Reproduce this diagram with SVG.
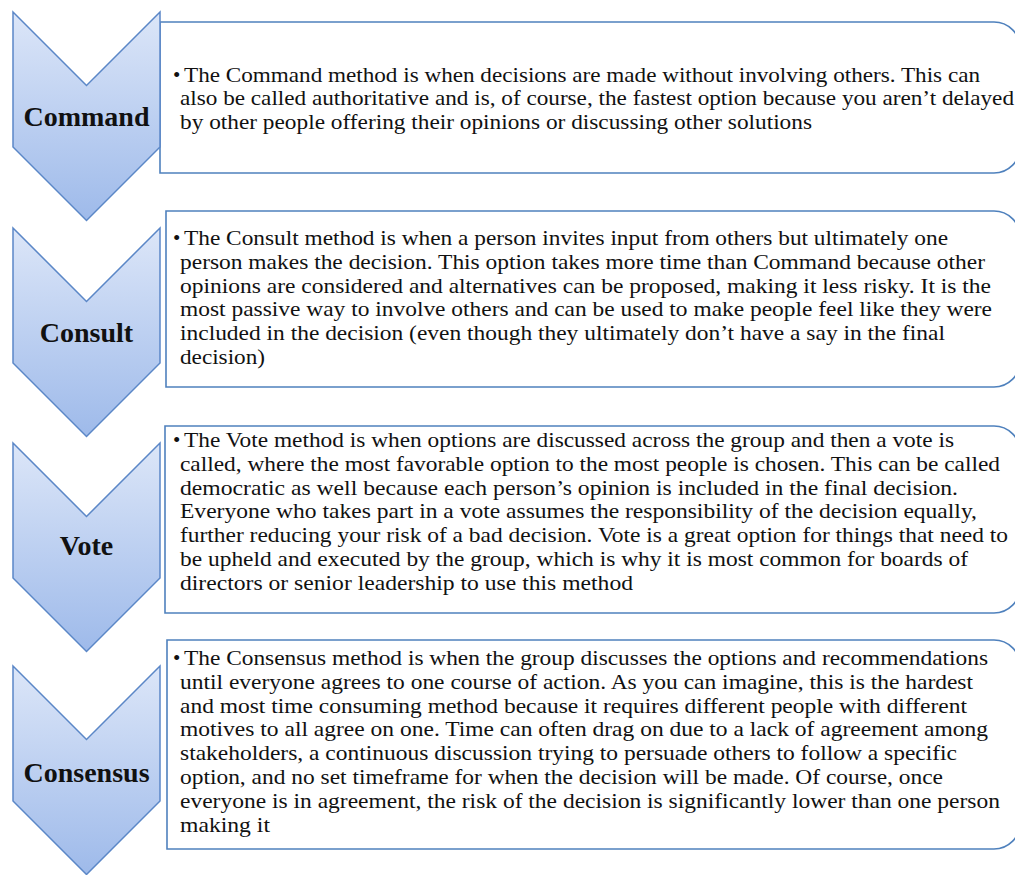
<svg xmlns="http://www.w3.org/2000/svg" width="1015" height="875" viewBox="0 0 1015 875">
<style>
.chev{fill:url(#cg);stroke:#5b87c7;stroke-width:1.5;stroke-linejoin:miter}
.box{fill:#ffffff;stroke:#4f81bd;stroke-width:1.6}
.lbl{font-family:"Liberation Serif","Times New Roman",serif;font-weight:bold;font-size:28px;fill:#111;text-anchor:middle}
.t{font-family:"Liberation Serif","Times New Roman",serif;font-size:21px;fill:#111}
</style>
<defs>
<linearGradient id="cg" x1="0" y1="0" x2="0" y2="1">
<stop offset="0" stop-color="#dce6f8"/>
<stop offset="1" stop-color="#9ebaea"/>
</linearGradient>
</defs>
<rect width="1015" height="875" fill="#ffffff"/>
<g id="connectors"></g>

<g id="command">
<path class="box" d="M160,22 H994 A26,26 0 0 1 1020,48 V147 A26,26 0 0 1 994,173 H160 Z"/>
<polygon class="chev" points="13,12 86.5,85.5 160,12 160,147 86.5,220.5 13,147"/>
<text class="lbl" x="86.5" y="125.7">Command</text>
<text class="t" x="173" y="81.5">•</text>
<text class="t" x="184" y="81.5" textLength="796" lengthAdjust="spacingAndGlyphs">The Command method is when decisions are made without involving others. This can</text>
<text class="t" x="180" y="105.3" textLength="834" lengthAdjust="spacingAndGlyphs">also be called authoritative and is, of course, the fastest option because you aren’t delayed</text>
<text class="t" x="180" y="129.1" textLength="632" lengthAdjust="spacingAndGlyphs">by other people offering their opinions or discussing other solutions</text>
</g>

<g id="consult">
<path class="box" d="M166,211 H994 A26,26 0 0 1 1020,237 V361 A26,26 0 0 1 994,387 H166 Z"/>
<polygon class="chev" points="13,228 86.5,301.5 160,228 160,363 86.5,436.5 13,363"/>
<text class="lbl" x="86.5" y="341.7">Consult</text>
<text class="t" x="173" y="245">•</text>
<text class="t" x="184" y="245" textLength="764" lengthAdjust="spacingAndGlyphs">The Consult method is when a person invites input from others but ultimately one</text>
<text class="t" x="180" y="268.8" textLength="805" lengthAdjust="spacingAndGlyphs">person makes the decision. This option takes more time than Command because other</text>
<text class="t" x="180" y="292.6" textLength="811" lengthAdjust="spacingAndGlyphs">opinions are considered and alternatives can be proposed, making it less risky. It is the</text>
<text class="t" x="180" y="316.4" textLength="812" lengthAdjust="spacingAndGlyphs">most passive way to involve others and can be used to make people feel like they were</text>
<text class="t" x="180" y="340.2" textLength="765" lengthAdjust="spacingAndGlyphs">included in the decision (even though they ultimately don’t have a say in the final</text>
<text class="t" x="180" y="364" textLength="85" lengthAdjust="spacingAndGlyphs">decision)</text>
</g>

<g id="vote">
<path class="box" d="M165,426 H994 A26,26 0 0 1 1020,452 V587 A26,26 0 0 1 994,613 H165 Z"/>
<polygon class="chev" points="13,443 86.5,516.5 160,443 160,578 86.5,651.5 13,578"/>
<text class="lbl" x="86.5" y="555">Vote</text>
<text class="t" x="173" y="447">•</text>
<text class="t" x="184" y="447" textLength="770" lengthAdjust="spacingAndGlyphs">The Vote method is when options are discussed across the group and then a vote is</text>
<text class="t" x="180" y="470.8" textLength="820" lengthAdjust="spacingAndGlyphs">called, where the most favorable option to the most people is chosen. This can be called</text>
<text class="t" x="180" y="494.6" textLength="778" lengthAdjust="spacingAndGlyphs">democratic as well because each person’s opinion is included in the final decision.</text>
<text class="t" x="180" y="518.4" textLength="797" lengthAdjust="spacingAndGlyphs">Everyone who takes part in a vote assumes the responsibility of the decision equally,</text>
<text class="t" x="180" y="542.2" textLength="828" lengthAdjust="spacingAndGlyphs">further reducing your risk of a bad decision. Vote is a great option for things that need to</text>
<text class="t" x="180" y="566" textLength="788" lengthAdjust="spacingAndGlyphs">be upheld and executed by the group, which is why it is most common for boards of</text>
<text class="t" x="180" y="589.8" textLength="453" lengthAdjust="spacingAndGlyphs">directors or senior leadership to use this method</text>
</g>

<g id="consensus">
<path class="box" d="M167,640 H994 A26,26 0 0 1 1020,666 V823 A26,26 0 0 1 994,849 H167 Z"/>
<polygon class="chev" points="13,666 86.5,739.5 160,666 160,801 86.5,874.5 13,801"/>
<text class="lbl" x="86.5" y="781.7">Consensus</text>
<text class="t" x="173" y="665">•</text>
<text class="t" x="184" y="665" textLength="804" lengthAdjust="spacingAndGlyphs">The Consensus method is when the group discusses the options and recommendations</text>
<text class="t" x="180" y="688.8" textLength="793" lengthAdjust="spacingAndGlyphs">until everyone agrees to one course of action. As you can imagine, this is the hardest</text>
<text class="t" x="180" y="712.6" textLength="787" lengthAdjust="spacingAndGlyphs">and most time consuming method because it requires different people with different</text>
<text class="t" x="180" y="736.4" textLength="808" lengthAdjust="spacingAndGlyphs">motives to all agree on one. Time can often drag on due to a lack of agreement among</text>
<text class="t" x="180" y="760.2" textLength="777" lengthAdjust="spacingAndGlyphs">stakeholders, a continuous discussion trying to persuade others to follow a specific</text>
<text class="t" x="180" y="784" textLength="763" lengthAdjust="spacingAndGlyphs">option, and no set timeframe for when the decision will be made. Of course, once</text>
<text class="t" x="180" y="807.8" textLength="820" lengthAdjust="spacingAndGlyphs">everyone is in agreement, the risk of the decision is significantly lower than one person</text>
<text class="t" x="180" y="831.6" textLength="90" lengthAdjust="spacingAndGlyphs">making it</text>
</g>
</svg>
